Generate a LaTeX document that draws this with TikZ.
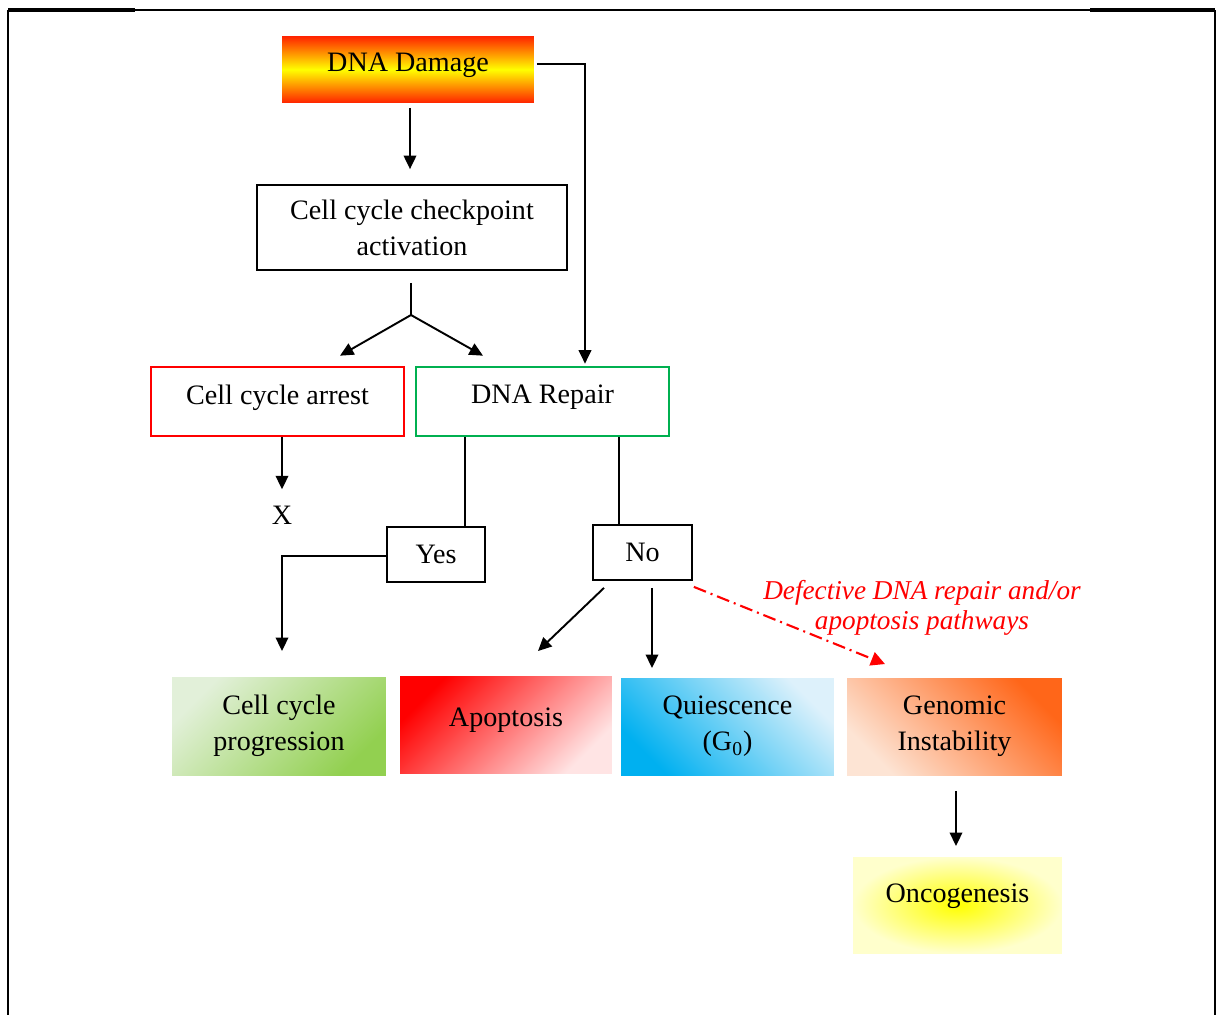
\documentclass[tikz,border=0pt]{standalone}
\usepackage{fontspec}
\setmainfont{Liberation Serif}
\usepackage{xcolor}
\usetikzlibrary{arrows.meta,positioning}
\definecolor{dmgred}{HTML}{FF2200}
\definecolor{dmgyellow}{HTML}{FFFF00}
\definecolor{arrestred}{HTML}{FF0000}
\definecolor{repairgreen}{HTML}{00B050}
\definecolor{proglight}{HTML}{E2F0D9}
\definecolor{progdark}{HTML}{92D050}
\definecolor{apodark}{HTML}{FF0000}
\definecolor{apolight}{HTML}{FFE4E4}
\definecolor{quidark}{HTML}{00B0F0}
\definecolor{quilight}{HTML}{DDF1FB}
\definecolor{gendark}{HTML}{FF6619}
\definecolor{genlight}{HTML}{FDE4D4}
\definecolor{oncyellow}{HTML}{FFFF00}
\definecolor{oncpale}{HTML}{FFFFCC}
\tikzset{
  box/.style={draw,rectangle,inner sep=0pt,align=center,line width=1pt},
  upper/.style={text depth=0.28cm},
  colbox/.style={rectangle,inner sep=0pt,align=center},
  flow/.style={
    ->,>={Triangle[length=0.27cm,width=0.25cm]},line width=1.1pt,
    every node/.style={font=\fontsize{16}{20.5}\selectfont}
  },
  defective/.style={
    ->,>={Triangle[length=0.28cm,width=0.28cm]},draw=arrestred,line width=1.2pt,
    dash pattern=on 0.26cm off 0.1cm on 0.04cm off 0.1cm
  }
}
\begin{document}
\begin{tikzpicture}[flow,x=0.02cm,y=-0.02cm]
  \useasboundingbox (0,0) rectangle (1217,1015);

  % page frame
  \draw[-,line width=0.6pt] (135,10) -- (1090,10);
  \draw[-,line width=2pt] (8,10) -- (135,10) (1090,10) -- (1215,10);
  \draw[-,line width=1.3pt] (8,10) -- (8,1015) (1215,10) -- (1215,1015);

  \node (dmg) [colbox,minimum width=5.04cm,minimum height=1.34cm,upper,
    top color=dmgred,bottom color=dmgred,middle color=dmgyellow] at (408,69.5) {DNA Damage};
  \node (chk) [box,minimum width=6.2cm,minimum height=1.7cm] at (412,227.5) {Cell cycle checkpoint\\activation};
  \node (arr) [box,draw=arrestred,line width=1.5pt,minimum width=5.06cm,minimum height=1.38cm,upper] at (277.5,401.5) {Cell cycle arrest};
  \node (rep) [box,draw=repairgreen,line width=1.5pt,minimum width=5.06cm,minimum height=1.38cm,upper] at (542.5,401.5) {DNA Repair};
  \node (x) [inner sep=2pt] at (282,515) {X};
  \node (yes) [box,minimum width=1.96cm,minimum height=1.1cm] at (436,554.5) {Yes};
  \node (no) [box,minimum width=1.98cm,minimum height=1.1cm] at (642.5,552.5) {No};

  \node (prog) [colbox,minimum width=4.28cm,minimum height=1.96cm,
    top color=proglight,bottom color=progdark,shading angle=45] at (279,726) {Cell cycle\\progression};
  \node (apo) [colbox,minimum width=4.24cm,minimum height=1.94cm,upper,
    top color=apodark,bottom color=apolight,shading angle=45] at (506,724.5) {Apoptosis};
  \node (qui) [colbox,minimum width=4.26cm,minimum height=1.94cm,
    top color=quilight,bottom color=quidark,shading angle=-45] at (727.5,726.5) {Quiescence\\(G\textsubscript{0})};
  \node (gen) [colbox,minimum width=4.3cm,minimum height=1.94cm,
    top color=gendark,bottom color=genlight,shading angle=-45] at (954.5,726.5) {Genomic\\Instability};
  \node (onc) [colbox,minimum width=4.18cm,minimum height=1.92cm,text depth=0.49cm,
    shading=radial,inner color=oncyellow,outer color=oncpale] at (957.5,905) {Oncogenesis};

  \node (lbl) [text=arrestred,align=center,font=\fontsize{15.5}{17}\selectfont\itshape] at (922,608)
    {Defective DNA repair and/or\\apoptosis pathways};

  \coordinate (split) at (411,315);

  \draw[shorten <=0.08cm,shorten >=0.3cm] ([xshift=0.04cm]dmg.south) -- ([xshift=0.04cm]dmg.south |- chk.north);
  \draw ([xshift=0.04cm,yshift=0.11cm]dmg.east) -| ([xshift=0.85cm,yshift=0.04cm]rep.north);
  \draw[-] ([yshift=-0.24cm]chk.south -| split) -- (split);
  \path
    (split) edge ([xshift=1.25cm,yshift=0.2cm]arr.north)
    (split) edge ([xshift=-1.19cm,yshift=0.2cm]rep.north)
    ;
  \draw[shorten >=0.24cm] (arr.south -| x) -- (x.north);
  \draw[-] ([xshift=-1.55cm]rep.south) -- ([xshift=-1.55cm]rep.south |- yes.north);
  \draw[-] ([xshift=1.53cm]rep.south) -- ([xshift=1.53cm]rep.south |- no.north);
  \draw[shorten >=0.5cm] ([yshift=-0.03cm]yes.west) -| ([xshift=0.06cm]prog.north);
  \path
    ([xshift=-0.77cm,yshift=-0.14cm]no.south) edge ([xshift=0.64cm,yshift=0.48cm]apo.north)
    ;
  \draw[shorten >=0.32cm] ([xshift=0.19cm,yshift=-0.14cm]no.south) -- ([xshift=0.19cm,yshift=-0.14cm]no.south |- qui.north);
  \draw[defective] ([xshift=0.02cm,yshift=-0.12cm]no.south east) -- ([xshift=-1.39cm,yshift=0.26cm]gen.north);
  \draw[shorten <=0.3cm,shorten >=0.2cm] ([xshift=0.03cm]gen.south) -- ([xshift=0.03cm]gen.south |- onc.north);
\end{tikzpicture}
\end{document}
